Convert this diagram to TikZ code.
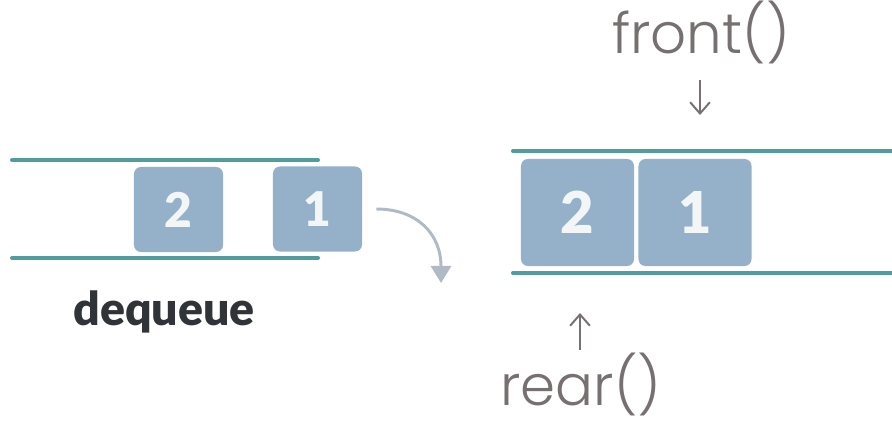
\documentclass[tikz,border=0pt]{standalone}
\usepackage{fontspec}
\setmainfont{Lato}
\newfontfamily\heavyfont{Lato Black}
\newfontfamily\callfont{Poppins}[UprightFont=* Light]
\usetikzlibrary{arrows.meta}

\definecolor{railteal}{HTML}{519C9C}
\definecolor{slot}{HTML}{94B1C9}
\definecolor{digit}{HTML}{F2F6F7}
\definecolor{swing}{HTML}{B1B9C5}
\definecolor{ink}{HTML}{303338}
\definecolor{callgray}{HTML}{767170}

\begin{document}
\begin{tikzpicture}[x=0.025cm, y=-0.025cm,
    rail/.style={draw=railteal, line width=2.8pt, line cap=round},
    small/.style={fill=slot, rounded corners=5pt, inner sep=0pt,
      minimum width=2.225cm, minimum height=2.125cm,
      text=digit, font=\heavyfont\fontsize{34}{34}\selectfont},
    big/.style={small, minimum width=2.825cm, minimum height=2.675cm,
      font=\heavyfont\fontsize{41}{41}\selectfont},
    call/.style={text=callgray, anchor=base, inner sep=0pt,
      font=\callfont\fontsize{40}{40}\selectfont},
    ptr/.style={draw=callgray, line width=1.4pt, -{Straight Barb[length=8pt,width=14pt]}}]

    \useasboundingbox (0,0) rectangle (892,427);

    % queue before
    \draw [rail] (12,160) -- (318,160);
    \draw [rail] (12,258) -- (318,258);
    \node [small] (a) at (178.5,209.5) {2};
    \node [small] (b) at (317.5,209) {1};
    \node [anchor=base, text=ink, font=\heavyfont\fontsize{33}{33}\selectfont] (deq) at (164,325) {dequeue};
    \coordinate (drop) at (441,283);
    \draw [draw=swing, line width=2.1pt, -{Triangle[length=0.425cm,width=0.5cm]}]
      ([xshift=0.35cm]b.east) .. controls +(40,0) and +(0,-50) .. (drop);

    % queue after
    \draw [rail] (513,151) -- (900,151);
    \draw [rail] (513,273) -- (900,273);
    \node [big] (c) at (577.5,212.5) {2};
    \node [big] (d) at (695,212.5) {1};

    \node [call] (front) at (701,54) {front()};
    \node [call] (rear) at (581,405) {rear()};
    \draw [ptr] (front.base) ++(-1,26) -- ++(0,35);
    \draw [ptr] (rear.base) ++(-1,-55) -- ++(0,-37);

\end{tikzpicture}
\end{document}
